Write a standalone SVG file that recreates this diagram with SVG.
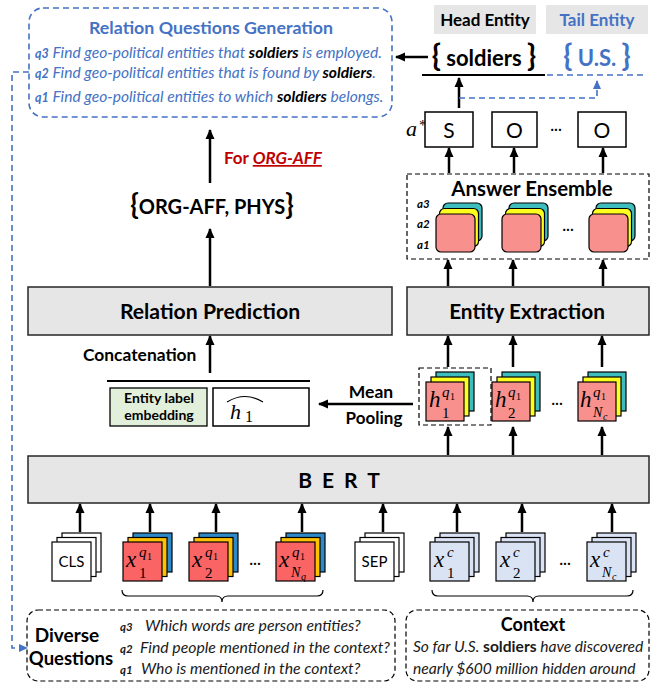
<svg xmlns="http://www.w3.org/2000/svg" width="663" height="686" viewBox="0 0 663 686">
  <defs>
    <marker id="ah" markerWidth="10" markerHeight="10" viewBox="0 0 10 10" refX="9" refY="5" orient="auto" markerUnits="userSpaceOnUse">
      <path d="M0,0.5 L10,5 L0,9.5 Z" fill="#000"/>
    </marker>
    <marker id="ahb" markerWidth="9" markerHeight="9" viewBox="0 0 10 10" refX="9" refY="5" orient="auto" markerUnits="userSpaceOnUse">
      <path d="M0,0.5 L10,5 L0,9.5 Z" fill="#4472C4"/>
    </marker>
    <style>
      .t { font-family: Lato, "Liberation Sans", sans-serif; }
      .b { font-weight: bold; }
      .i { font-style: italic; }
      .m { font-family: "Liberation Serif", "DejaVu Serif", serif; font-style: italic; fill: #000; }
      .n { font-style: normal; }
      .blue { fill: #4472C4; }
      .arr { stroke: #000; stroke-width: 2.5; fill: none; marker-end: url(#ah); }
      .bdash { stroke: #4472C4; stroke-width: 1.6; fill: none; stroke-dasharray: 6 4; }
      .kdash { stroke: #000; stroke-width: 1.2; fill: none; stroke-dasharray: 5 3; }
      .gray { fill: #E7E6E6; stroke: #262626; stroke-width: 1.5; }
      .blk { fill: #fff; stroke: #000; stroke-width: 1.5; }
      .pk { fill: #F8918D; stroke: #000; stroke-width: 1.2; }
      .yl { fill: #FFFF1F; stroke: #000; stroke-width: 1.2; }
      .tl { fill: #3DBDBD; stroke: #000; stroke-width: 1.2; }
      .rd { fill: #FA6464; stroke: #000; stroke-width: 1.2; }
      .gd { fill: #FFC000; stroke: #000; stroke-width: 1.2; }
      .bl { fill: #2E89C8; stroke: #000; stroke-width: 1.2; }
      .lb { fill: #DAE3F3; stroke: #000; stroke-width: 1.2; }
      .wh { fill: #fff; stroke: #000; stroke-width: 1.2; }
      .brace { stroke: #000; stroke-width: 1.2; fill: none; }
    </style>
  </defs>

  <rect width="663" height="686" fill="#fff"/>

  <!-- relation question generation -->
  <g id="rel-questions">
    <rect x="29" y="8" width="363" height="109" rx="14" class="bdash"/>
    <text x="211" y="34" text-anchor="middle" class="t b blue" font-size="17.8">Relation Questions Generation</text>
    <text x="35" y="58" class="t i blue" font-size="15.6"><tspan class="b" font-size="12.5">q3</tspan> Find geo-political entities that <tspan class="b" fill="#000">soldiers</tspan> is employed.</text>
    <text x="35" y="78" class="t i blue" font-size="15.6"><tspan class="b" font-size="12.5">q2</tspan> Find geo-political entities that is found by <tspan class="b" fill="#000">soldiers</tspan>.</text>
    <text x="35" y="102" class="t i blue" font-size="15.6"><tspan class="b" font-size="12.5">q1</tspan> Find geo-political entities to which <tspan class="b" fill="#000">soldiers</tspan> belongs.</text>
  </g>

  <!-- head / tail entities -->
  <g id="head-entity">
    <rect x="434" y="5" width="102" height="29" fill="#E7E6E6"/>
    <text x="485" y="25.5" text-anchor="middle" class="t b" font-size="17">Head Entity</text>
    <text x="484" y="66" text-anchor="middle" class="t b" font-size="22"><tspan font-size="30">{</tspan> soldiers <tspan font-size="30">}</tspan></text>
    <line x1="422" y1="75" x2="545" y2="75" stroke="#000" stroke-width="2"/>
  </g>
  <g id="tail-entity">
    <rect x="546" y="5" width="102" height="29" fill="#E7E6E6"/>
    <text x="597" y="25.5" text-anchor="middle" class="t b blue" font-size="17">Tail Entity</text>
    <text x="597" y="66" text-anchor="middle" class="t b blue" font-size="22"><tspan font-size="30">{</tspan> U.S. <tspan font-size="30">}</tspan></text>
    <line x1="547" y1="75" x2="647" y2="75" class="bdash"/>
  </g>

  <!-- answer tags -->
  <g id="answer-tags">
    <text x="406" y="136" class="m" font-size="22">a</text>
    <text x="419" y="130" class="m n" font-size="15">*</text>
    <rect x="425" y="112" width="48" height="35" class="blk"/>
    <text x="449" y="138" text-anchor="middle" class="t" font-size="21">S</text>
    <rect x="492" y="112" width="45" height="35" class="blk"/>
    <text x="514.5" y="138" text-anchor="middle" class="t" font-size="21">O</text>
    <text x="556" y="134" text-anchor="middle" class="t" font-size="15">···</text>
    <rect x="578" y="112" width="48" height="35" class="blk"/>
    <text x="602" y="138" text-anchor="middle" class="t" font-size="21">O</text>
  </g>

  <!-- answer ensemble -->
  <g id="answer-ensemble">
    <rect x="407" y="174" width="242" height="85" class="kdash"/>
    <text x="532" y="196" text-anchor="middle" class="t b" font-size="20.4">Answer Ensemble</text>
    <text x="417" y="208" class="t b i" font-size="11.5">a3</text>
    <text x="417" y="228" class="t b i" font-size="11.5">a2</text>
    <text x="417" y="249" class="t b i" font-size="11.5">a1</text>
    <rect x="443" y="203" width="39" height="38" rx="5" class="tl"/>
    <rect x="439.5" y="208.5" width="39" height="38" rx="5" class="yl"/>
    <rect x="436" y="214" width="39" height="38" rx="5" class="pk"/>
    <rect x="509" y="203" width="39" height="38" rx="5" class="tl"/>
    <rect x="505.5" y="208.5" width="39" height="38" rx="5" class="yl"/>
    <rect x="502" y="214" width="39" height="38" rx="5" class="pk"/>
    <text x="568" y="234" text-anchor="middle" class="t" font-size="15">···</text>
    <rect x="596" y="203" width="39" height="38" rx="5" class="tl"/>
    <rect x="592.5" y="208.5" width="39" height="38" rx="5" class="yl"/>
    <rect x="589" y="214" width="39" height="38" rx="5" class="pk"/>
  </g>

  <!-- relation set -->
  <g id="relation-set">
    <text x="212" y="214" text-anchor="middle" class="t b" font-size="20"><tspan font-size="28">{</tspan>ORG-AFF, PHYS<tspan font-size="28">}</tspan></text>
    <text x="224" y="164" class="t b" font-size="17" fill="#C00000">For <tspan class="i" text-decoration="underline">ORG-AFF</tspan></text>
  </g>

  <!-- relation prediction -->
  <g id="relation-prediction">
    <rect x="28" y="287" width="364" height="48" class="gray"/>
    <text x="210" y="319" text-anchor="middle" class="t b" font-size="21.2">Relation Prediction</text>
  </g>

  <!-- entity extraction -->
  <g id="entity-extraction">
    <rect x="407" y="287" width="242" height="48" class="gray"/>
    <text x="527" y="319" text-anchor="middle" class="t b" font-size="20.8">Entity Extraction</text>
  </g>

  <!-- concatenation -->
  <g id="concatenation">
    <text x="83" y="361" class="t b" font-size="17.4">Concatenation</text>
    <line x1="107" y1="381" x2="310" y2="381" stroke="#000" stroke-width="2"/>
    <rect x="110" y="388" width="97" height="38" fill="#E2EFDA" stroke="#000" stroke-width="1.3"/>
    <text x="159" y="403" text-anchor="middle" class="t b" font-size="14">Entity label</text>
    <text x="159" y="420" text-anchor="middle" class="t b" font-size="14">embedding</text>
    <rect x="213" y="388" width="96" height="38" class="blk" stroke-width="1.3"/>
    <path d="M227,402 Q245,391 263,402" stroke="#000" stroke-width="1.1" fill="none"/>
    <text x="230" y="419" class="m" font-size="22">h</text>
    <text x="245" y="422" class="m n" font-size="16">1</text>
  </g>

  <!-- mean pooling label -->
  <g id="mean-pooling">
    <text x="371" y="398" text-anchor="middle" class="t b" font-size="17.5">Mean</text>
    <text x="374" y="424" text-anchor="middle" class="t b" font-size="17">Pooling</text>
  </g>

  <!-- hidden states -->
  <g id="hidden-states">
    <rect x="419" y="368" width="72" height="57" class="kdash"/>
    <rect x="436" y="372" width="38" height="39" class="tl"/>
    <rect x="431" y="377" width="38" height="39" class="yl"/>
    <rect x="426" y="382" width="38" height="39" class="pk"/>
    <text x="429" y="407" class="m" font-size="23">h</text>
    <text x="442" y="397" class="m" font-size="15">q</text>
    <text x="450" y="400" class="m n" font-size="10">1</text>
    <text x="442" y="418" class="m n" font-size="15">1</text>

    <rect x="502" y="372" width="38" height="39" class="tl"/>
    <rect x="497" y="377" width="38" height="39" class="yl"/>
    <rect x="492" y="382" width="38" height="39" class="pk"/>
    <text x="495" y="407" class="m" font-size="23">h</text>
    <text x="508" y="397" class="m" font-size="15">q</text>
    <text x="516" y="400" class="m n" font-size="10">1</text>
    <text x="508" y="418" class="m n" font-size="15">2</text>

    <text x="557" y="408" text-anchor="middle" class="t" font-size="15">···</text>

    <rect x="588" y="372" width="38" height="39" class="tl"/>
    <rect x="583" y="377" width="38" height="39" class="yl"/>
    <rect x="578" y="382" width="38" height="39" class="pk"/>
    <text x="580" y="407" class="m" font-size="23">h</text>
    <text x="593" y="397" class="m" font-size="15">q</text>
    <text x="601" y="400" class="m n" font-size="10">1</text>
    <text x="593" y="417" class="m" font-size="14">N</text>
    <text x="603" y="420" class="m" font-size="10">c</text>
  </g>

  <!-- encoder -->
  <g id="bert">
    <rect x="28" y="456" width="621" height="47" class="gray"/>
    <text x="344" y="488" text-anchor="middle" class="t b" font-size="21" letter-spacing="10">BERT</text>
  </g>

  <!-- input tokens -->
  <g id="tok-cls">
    <rect x="62" y="533" width="39" height="39" class="wh"/>
    <rect x="57" y="537.5" width="39" height="39" class="wh"/>
    <rect x="52" y="542" width="39" height="39" class="wh"/>
    <text x="71.5" y="567" text-anchor="middle" class="t" font-size="15">CLS</text>
  </g>
  <g id="tok-q1">
    <rect x="133" y="533" width="39" height="39" class="bl"/>
    <rect x="128" y="537.5" width="39" height="39" class="gd"/>
    <rect x="123" y="542" width="39" height="39" class="rd"/>
    <text x="126" y="567" class="m" font-size="23">x</text>
    <text x="139" y="557" class="m" font-size="15">q</text>
    <text x="147" y="560" class="m n" font-size="10">1</text>
    <text x="139" y="578" class="m n" font-size="15">1</text>
  </g>
  <g id="tok-q2">
    <rect x="199" y="533" width="39" height="39" class="bl"/>
    <rect x="194" y="537.5" width="39" height="39" class="gd"/>
    <rect x="189" y="542" width="39" height="39" class="rd"/>
    <text x="192" y="567" class="m" font-size="23">x</text>
    <text x="205" y="557" class="m" font-size="15">q</text>
    <text x="213" y="560" class="m n" font-size="10">1</text>
    <text x="205" y="578" class="m n" font-size="15">2</text>
  </g>
  <text x="255" y="568" text-anchor="middle" class="t" font-size="15">···</text>
  <g id="tok-qn">
    <rect x="286" y="533" width="39" height="39" class="bl"/>
    <rect x="281" y="537.5" width="39" height="39" class="gd"/>
    <rect x="276" y="542" width="39" height="39" class="rd"/>
    <text x="279" y="567" class="m" font-size="23">x</text>
    <text x="292" y="557" class="m" font-size="15">q</text>
    <text x="300" y="560" class="m n" font-size="10">1</text>
    <text x="291" y="577" class="m" font-size="14">N</text>
    <text x="301" y="580" class="m" font-size="10">q</text>
  </g>
  <g id="tok-sep">
    <rect x="365" y="533" width="39" height="39" class="wh"/>
    <rect x="360" y="537.5" width="39" height="39" class="wh"/>
    <rect x="355" y="542" width="39" height="39" class="wh"/>
    <text x="374.5" y="567" text-anchor="middle" class="t" font-size="15">SEP</text>
  </g>
  <g id="tok-c1">
    <rect x="440" y="533" width="39" height="39" class="lb"/>
    <rect x="435" y="537.5" width="39" height="39" class="lb"/>
    <rect x="430" y="542" width="39" height="39" class="lb"/>
    <text x="434" y="567" class="m" font-size="23">x</text>
    <text x="447" y="557" class="m" font-size="15">c</text>
    <text x="447" y="578" class="m n" font-size="15">1</text>
  </g>
  <g id="tok-c2">
    <rect x="506" y="533" width="39" height="39" class="lb"/>
    <rect x="501" y="537.5" width="39" height="39" class="lb"/>
    <rect x="496" y="542" width="39" height="39" class="lb"/>
    <text x="500" y="567" class="m" font-size="23">x</text>
    <text x="513" y="557" class="m" font-size="15">c</text>
    <text x="513" y="578" class="m n" font-size="15">2</text>
  </g>
  <text x="565" y="568" text-anchor="middle" class="t" font-size="15">···</text>
  <g id="tok-cn">
    <rect x="597" y="533" width="39" height="39" class="lb"/>
    <rect x="592" y="537.5" width="39" height="39" class="lb"/>
    <rect x="587" y="542" width="39" height="39" class="lb"/>
    <text x="590" y="567" class="m" font-size="23">x</text>
    <text x="603" y="557" class="m" font-size="15">c</text>
    <text x="602" y="577" class="m" font-size="14">N</text>
    <text x="612" y="580" class="m" font-size="10">c</text>
  </g>

  <!-- grouping braces -->
  <path class="brace" d="M122,590 q0,6 6,6 H216 q6,0 6,6 q0,-6 6,-6 H317 q6,0 6,-6"/>
  <path class="brace" d="M432,590 q0,6 6,6 H527 q6,0 6,6 q0,-6 6,-6 H627 q6,0 6,-6"/>

  <!-- diverse questions -->
  <g id="diverse-questions">
    <rect x="27" y="610" width="368" height="71" rx="11" class="kdash"/>
    <text x="67" y="642" text-anchor="middle" class="t b" font-size="19">Diverse</text>
    <text x="71" y="665" text-anchor="middle" class="t b" font-size="18.5">Questions</text>
    <text x="120" y="631" class="t" font-size="15.8" fill="#1a1a1a"><tspan class="b i" font-size="11.5">q3</tspan> <tspan class="i" x="145">Which words are person entities?</tspan></text>
    <text x="120" y="653" class="t" font-size="15.8" fill="#1a1a1a"><tspan class="b i" font-size="11.5">q2</tspan> <tspan class="i" x="140">Find people mentioned in the context?</tspan></text>
    <text x="120" y="674" class="t" font-size="15.8" fill="#1a1a1a"><tspan class="b i" font-size="11.5">q1</tspan> <tspan class="i" x="141">Who is mentioned in the context?</tspan></text>
  </g>

  <!-- context -->
  <g id="context">
    <rect x="406" y="610" width="243" height="71" rx="11" class="kdash"/>
    <text x="533" y="631" text-anchor="middle" class="t b" font-size="18">Context</text>
    <text x="413" y="652" class="t i" font-size="15.6" fill="#1a1a1a">So far U.S. <tspan class="b n">soldiers</tspan> have discovered</text>
    <text x="413" y="674" class="t i" font-size="15.6" fill="#1a1a1a">nearly $600 million hidden around</text>
  </g>

  <!-- connectors -->
  <g id="connectors">
    <line class="arr" x1="210" y1="183" x2="210" y2="130"/>
    <line class="arr" x1="210" y1="286" x2="210" y2="229"/>
    <line class="arr" x1="210" y1="373" x2="210" y2="336"/>
    <line class="arr" x1="413" y1="404" x2="319" y2="404"/>
    <line class="arr" x1="428" y1="57" x2="396" y2="57"/>
    <line class="arr" x1="459" y1="108" x2="459" y2="78"/>
    <path class="bdash" d="M459,98 H597 V81" marker-end="url(#ahb)"/>

    <line class="arr" x1="449" y1="173" x2="449" y2="148"/>
    <line class="arr" x1="514" y1="173" x2="514" y2="148"/>
    <line class="arr" x1="603" y1="173" x2="603" y2="148"/>

    <line class="arr" x1="448" y1="286" x2="448" y2="260"/>
    <line class="arr" x1="513" y1="286" x2="513" y2="260"/>
    <line class="arr" x1="603" y1="286" x2="603" y2="260"/>

    <line class="arr" x1="448" y1="367" x2="448" y2="336"/>
    <line class="arr" x1="513" y1="367" x2="513" y2="336"/>
    <line class="arr" x1="602" y1="367" x2="602" y2="336"/>

    <line class="arr" x1="448" y1="455" x2="448" y2="427"/>
    <line class="arr" x1="513" y1="455" x2="513" y2="427"/>
    <line class="arr" x1="602" y1="455" x2="602" y2="427"/>

    <line class="arr" x1="80" y1="532" x2="80" y2="504"/>
    <line class="arr" x1="150" y1="532" x2="150" y2="504"/>
    <line class="arr" x1="216" y1="532" x2="216" y2="504"/>
    <line class="arr" x1="302" y1="532" x2="302" y2="504"/>
    <line class="arr" x1="383" y1="532" x2="383" y2="504"/>
    <line class="arr" x1="457" y1="532" x2="457" y2="504"/>
    <line class="arr" x1="522" y1="532" x2="522" y2="504"/>
    <line class="arr" x1="612" y1="532" x2="612" y2="504"/>

    <path class="bdash" d="M29,72 H12 V648 H27" marker-end="url(#ahb)"/>
  </g>
</svg>
